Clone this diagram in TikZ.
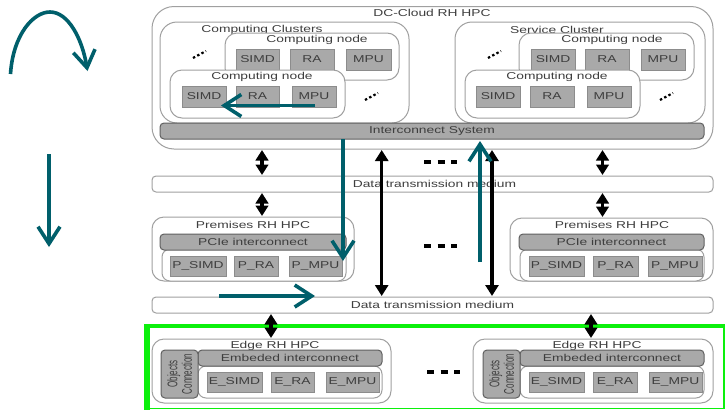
\documentclass[tikz,border=0pt]{standalone}
\usepackage{fontspec}
\setmainfont[FakeStretch=1.38]{Liberation Sans}
\newfontfamily\narrowfont[FakeStretch=0.57]{Liberation Sans}
\usetikzlibrary{arrows.meta}
\definecolor{teal1}{HTML}{005F6B}
\definecolor{txt}{HTML}{3E3E3E}
\definecolor{edgeg}{HTML}{A0A0A0}
\definecolor{cellg}{HTML}{A9A9A9}
\definecolor{cellb}{HTML}{8C8C8C}
\definecolor{barb}{HTML}{606060}
\definecolor{neon}{HTML}{0CF00C}
\tikzset{
  base/.style={inner sep=0pt,outer sep=0pt,text=txt,font=\fontsize{10}{11}\selectfont},
  shell/.style={base,draw=edgeg,line width=1pt,fill=white,rounded corners=#1},
  shell/.default=12pt,
  cell/.style={base,draw=cellb,line width=0.8pt,fill=cellg},
  bar/.style={base,draw=barb,line width=1pt,fill=cellg,rounded corners=4pt},
  lbl/.style={base,yshift=-1.2pt},
  dbl/.style={black,line width=3.2pt,{Triangle[length=10.5pt,width=12.5pt]}-{Triangle[length=10.5pt,width=12.5pt]},shorten <=1pt,shorten >=1pt},
  lng/.style={black,line width=3.4pt,{Triangle[length=11pt,width=13pt]}-{Triangle[length=11pt,width=13pt]},shorten <=1pt,shorten >=1pt},
  tealarrow/.style={teal1,line width=3.6pt,-{Straight Barb[length=17pt,width=22pt,line width=3.6pt]}},
  dotdash/.style={black,line width=4pt,dash pattern=on 7pt off 6.5pt},
  dotsmall/.style={black,line width=2.2pt,dash pattern=on 2.4pt off 2.4pt},
}
% style, name, x1, y1, x2, y2, text
\newcommand\bx[7]{\node[#1,anchor=north west,minimum width={(#5-#3)*1pt},minimum height={(#6-#4)*1pt}] (#2) at (#3,#4) {\raisebox{-1pt}{#7}};}
\begin{document}
\begin{tikzpicture}[x=1pt,y=-1pt]
\useasboundingbox (0,0) rectangle (725,410);
\fill[white] (0,0) rectangle (725,410);
% green frame
\draw[neon,line width=1.5pt] (146,326) rectangle (724,408.5);
\fill[neon] (143.5,324) rectangle (150,410);
\fill[neon] (143.5,324) rectangle (725,328);
% cloud
\bx{shell=22pt}{dc}{152}{6.5}{713}{149}{}
\node[lbl] (dct) at (432,12) {DC-Cloud RH HPC};
\bx{shell=17pt}{cc}{160}{22}{409}{123}{}
\node[lbl] (cct) at (262,28.5) {Computing Clusters};
\bx{shell=12pt}{cnb}{225}{33}{399}{80}{}
\node[lbl] (cnbt) at (317,39) {Computing node};
\bx{cell}{a1}{236}{49}{279}{70}{SIMD}
\bx{cell}{a2}{290}{49}{334}{70}{RA}
\bx{cell}{a3}{346}{49}{391}{70}{MPU}
\bx{shell=12pt}{cnf}{170}{70}{345}{118}{}
\node[lbl] (cnft) at (262,76) {Computing node};
\bx{cell}{b1}{182}{86}{226}{107}{SIMD}
\bx{cell}{b2}{236}{86}{279}{107}{RA}
\bx{cell}{b3}{292}{86}{336}{107}{MPU}
\bx{shell=17pt}{sc}{455}{22}{705}{123}{}
\node[lbl] (sct) at (557,28.5) {Service Cluster};
\bx{shell=12pt}{snb}{519}{33}{694}{80}{}
\node[lbl] (snbt) at (612,39) {Computing node};
\bx{cell}{c1}{531}{49}{575}{70}{SIMD}
\bx{cell}{c2}{585}{49}{629}{70}{RA}
\bx{cell}{c3}{641}{49}{685}{70}{MPU}
\bx{shell=12pt}{snf}{465}{70}{640}{118}{}
\node[lbl] (snft) at (557,76) {Computing node};
\bx{cell}{d1}{476}{86}{520}{107}{SIMD}
\bx{cell}{d2}{530}{86}{574}{107}{RA}
\bx{cell}{d3}{587}{86}{631}{107}{MPU}
\bx{bar}{ic}{160}{123}{704}{139}{Interconnect System}
\draw[dotsmall] (193,58) -- (206,51);
\draw[dotsmall] (365,100) -- (378,93);
\draw[dotsmall] (488,58) -- (501,51);
\draw[dotsmall] (660,100) -- (673,93);
% media
\bx{shell=4pt}{m1}{152}{176}{713}{192}{\hspace*{4pt}Data transmission medium}
\bx{shell=4pt}{m2}{152}{297}{713}{313}{Data transmission medium}
% premises left
\bx{shell=12pt}{pl}{152}{217}{354}{281}{}
\node[lbl] (plt) at (253,224) {Premises RH HPC};
\bx{shell=8pt}{pll}{162}{249}{346}{281}{}
\bx{bar}{plb}{160}{234}{346}{250}{PCIe interconnect}
\bx{cell}{e1}{170}{256}{226}{276}{P\_SIMD}
\bx{cell}{e2}{234}{256}{278}{276}{P\_RA}
\bx{cell}{e3}{289}{256}{342}{276}{P\_MPU}
% premises right
\bx{shell=12pt}{pr}{510}{218}{713}{281}{}
\node[lbl] (prt) at (612,224) {Premises RH HPC};
\bx{shell=8pt}{prl}{520}{249}{704}{281}{}
\bx{bar}{prb}{519}{234}{704}{250}{PCIe interconnect}
\bx{cell}{f1}{529}{256}{584}{276}{P\_SIMD}
\bx{cell}{f2}{593}{256}{638}{276}{P\_RA}
\bx{cell}{f3}{648}{256}{702}{276}{P\_MPU}
% edge left
\bx{shell=12pt}{el}{152}{339}{391}{403}{}
\node[lbl] (elt) at (275,345) {Edge RH HPC};
\bx{shell=8pt}{ell}{198}{366}{382}{398}{}
\bx{bar}{elb}{198}{350}{382}{366}{Embeded interconnect}
\bx{bar}{elo}{161}{350}{198}{398}{}
\node[base,rotate=90,align=center,font=\narrowfont\fontsize{14}{14.5}\selectfont] (elot) at (179.5,374) {Objects\\Connection};
\bx{cell}{g1}{207}{372}{262}{392}{E\_SIMD}
\bx{cell}{g2}{271}{372}{314}{392}{E\_RA}
\bx{cell}{g3}{326}{372}{379}{392}{E\_MPU}
% edge right
\bx{shell=12pt}{er}{473}{339}{713}{403}{}
\node[lbl] (ert) at (597,345) {Edge RH HPC};
\bx{shell=8pt}{erl}{520}{366}{704}{398}{}
\bx{bar}{erb}{520}{350}{704}{366}{Embeded interconnect}
\bx{bar}{ero}{483}{350}{520}{398}{}
\node[base,rotate=90,align=center,font=\narrowfont\fontsize{14}{14.5}\selectfont] (erot) at (501.5,374) {Objects\\Connection};
\bx{cell}{h1}{529}{372}{584}{392}{E\_SIMD}
\bx{cell}{h2}{593}{372}{637}{392}{E\_RA}
\bx{cell}{h3}{649}{372}{702}{392}{E\_MPU}
% black connectors
\coordinate (xa) at (262,0);
\coordinate (xb) at (602.5,0);
\coordinate (xc) at (271,0);
\coordinate (xd) at (591,0);
\coordinate (xe) at (381.7,0);
\coordinate (xf) at (492,0);
\draw[dbl] (dc.south -| xa) -- (m1.north -| xa);
\draw[dbl] (m1.south -| xa) -- (pl.north -| xa);
\draw[dbl] (dc.south -| xb) -- (m1.north -| xb);
\draw[dbl] (m1.south -| xb) -- (pr.north -| xb);
\draw[dbl] (m2.south -| xc) -- (el.north -| xc);
\draw[dbl] (m2.south -| xd) -- (er.north -| xd);
\draw[lng] (dc.south -| xe) -- (m2.north -| xe);
\draw[lng] (dc.south -| xf) -- (m2.north -| xf);
% dashes
\coordinate (k1) at (424,162); \coordinate (k2) at (457,162);
\coordinate (k3) at (424,246); \coordinate (k4) at (457,246);
\coordinate (k5) at (427,372); \coordinate (k6) at (460,372);
\draw[dotdash] (k1) -- (k2);
\draw[dotdash] (k3) -- (k4);
\draw[dotdash] (k5) -- (k6);
% teal
\coordinate (t1) at (315,105.5); \coordinate (t2) at (221,105.5);
\coordinate (t3) at (343,139); \coordinate (t4) at (343,261);
\coordinate (t5) at (219,296); \coordinate (t6) at (315,296);
\coordinate (t7) at (480,262); \coordinate (t8) at (480,141);
\coordinate (t9) at (10.5,74); \coordinate (t10) at (87.5,71);
\coordinate (t11) at (49,154); \coordinate (t12) at (49,247);
\draw[tealarrow] (t1) -- (t2);
\draw[tealarrow] (t3) -- (t4);
\draw[tealarrow] (t5) -- (t6);
\draw[tealarrow] (t7) -- (t8);
\draw[tealarrow] (t11) -- (t12);
\draw[tealarrow] (t9) .. controls (13,35) and (33,12) .. (50,12) .. controls (68,12) and (82,38) .. (t10);
\end{tikzpicture}
\end{document}
